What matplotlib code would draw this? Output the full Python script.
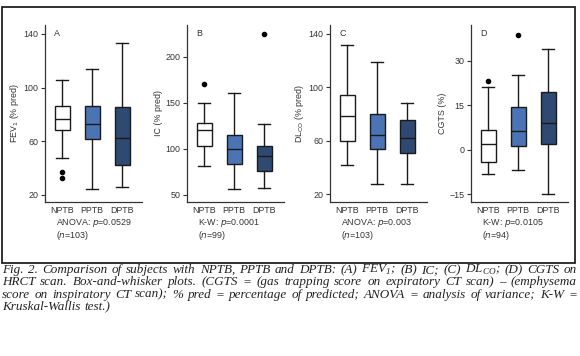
import matplotlib.pyplot as plt
from matplotlib.patches import Rectangle

plt.rcParams['font.family'] = ['Liberation Sans Narrow', 'Liberation Sans', 'DejaVu Sans']
plt.rcParams['mathtext.fontset'] = 'custom'
plt.rcParams['mathtext.rm'] = 'Liberation Serif:italic'
plt.rcParams['mathtext.it'] = 'Liberation Sans Narrow:italic'
plt.rcParams['mathtext.sf'] = 'Liberation Sans Narrow'

groups = ['NPTB', 'PPTB', 'DPTB']
colors = ['#ffffff', '#4a74b4', '#2e4a72']

# A: FEV1
fev1_low = [47.5, 24.5, 26]
fev1_q1 = [68, 61.3, 42]
fev1_med = [76.5, 73, 62.5]
fev1_q3 = [86, 86, 85.5]
fev1_high = [105.5, 113.5, 133]
fev1_out = [[37, 32.5], [], []]

# B: IC
ic_low = [81, 56, 58]
ic_q1 = [103.3, 84, 76.5]
ic_med = [121, 100, 92.4]
ic_q3 = [128.3, 115.3, 103.3]
ic_high = [150, 160.5, 127.2]
ic_out = [[170], [], [225]]

# C: DLCO
dlco_low = [41.6, 27.5, 27.5]
dlco_q1 = [59.8, 53.8, 50.8]
dlco_med = [78.5, 64.5, 62.5]
dlco_q3 = [94, 80, 75.5]
dlco_high = [131.4, 119, 88]
dlco_out = [[], [], []]

# D: CGTS
cgts_low = [-8.3, -6.9, -14.8]
cgts_q1 = [-4.2, 1.1, 2.0]
cgts_med = [1.8, 6.2, 9.1]
cgts_q3 = [6.5, 14.3, 19.4]
cgts_high = [21.1, 25.3, 34]
cgts_out = [[23.2], [38.8], []]

panels = [
    ('A', r'FEV$_{\mathsf{1}}$ (% pred)', fev1_low, fev1_q1, fev1_med, fev1_q3, fev1_high, fev1_out,
     (14.8, 146.7), [20, 60, 100, 140], 'ANOVA: ', '0.0529', '103'),
    ('B', 'IC (% pred)', ic_low, ic_q1, ic_med, ic_q3, ic_high, ic_out,
     (42.7, 234.4), [50, 100, 150, 200], 'K-W: ', '0.0001', '99'),
    ('C', r'DL$_{\mathsf{CO}}$ (% pred)', dlco_low, dlco_q1, dlco_med, dlco_q3, dlco_high, dlco_out,
     (14.5, 146.7), [20, 60, 100, 140], 'ANOVA: ', '0.003', '103'),
    ('D', 'CGTS (%)', cgts_low, cgts_q1, cgts_med, cgts_q3, cgts_high, cgts_out,
     (-17.5, 42), [-15, 0, 15, 30], 'K-W: ', '0.0105', '94'),
]

caption = [
    r'Fig. 2. Comparison of subjects with NPTB, PPTB and DPTB: (A) FEV$_{\mathrm{1}}$; (B) IC; (C) DL$_{\mathrm{CO}}$; (D) CGTS on',
    'HRCT scan. Box-and-whisker plots. (CGTS = (gas trapping score on expiratory CT scan) \u2013 (emphysema',
    'score on inspiratory CT scan); % pred = percentage of predicted; ANOVA = analysis of variance; K-W =',
    'Kruskal-Wallis test.)',
]

W, H = 580, 356
fig = plt.figure(figsize=(W / 100, H / 100), dpi=100)

fig.patches.append(Rectangle((2 / W, 1 - 263 / H), 573 / W, 256 / H, transform=fig.transFigure,
                             fill=False, edgecolor='#222222', linewidth=1.3))

fs = 6.4
lefts = [45, 187, 330, 471]
axw = 97
for left, p in zip(lefts, panels):
    letter, ylab, lo, q1, med, q3, hi, out, ylim, yt, test, pval, n = p
    ax = fig.add_axes([left / W, 1 - 201.7 / H, axw / W, 176.7 / H])
    stats = []
    for i in range(3):
        stats.append(dict(whislo=lo[i], q1=q1[i], med=med[i], q3=q3[i], whishi=hi[i], fliers=out[i]))
    bp = ax.bxp(stats, positions=[1, 2, 3], widths=0.5, patch_artist=True,
                boxprops=dict(edgecolor='#1a1a1a', linewidth=1.0),
                medianprops=dict(color='#1a1a1a', linewidth=1.0),
                whiskerprops=dict(color='#1a1a1a', linewidth=1.0),
                capprops=dict(color='#1a1a1a', linewidth=1.0),
                flierprops=dict(marker='o', markerfacecolor='black', markeredgecolor='black', markersize=3),
                capwidths=0.38)
    for box, c in zip(bp['boxes'], colors):
        box.set_facecolor(c)
    ax.set_xlim(0.43, 0.43 + axw / 30)
    ax.set_ylim(*ylim)
    ax.set_yticks(yt)
    ax.set_xticks([1, 2, 3])
    ax.set_xticklabels(groups)
    ax.spines['top'].set_visible(False)
    ax.spines['right'].set_visible(False)
    for s in ['left', 'bottom']:
        ax.spines[s].set_color('#333333')
        ax.spines[s].set_linewidth(0.9)
    ax.tick_params(axis='y', length=3, width=0.8, color='#333333', labelsize=fs, pad=1.5, labelcolor='#333333')
    ax.tick_params(axis='x', length=0, labelsize=fs, pad=3.2, labelcolor='#333333')
    ax.set_ylabel(ylab, fontsize=fs, color='#333333')
    ax.yaxis.set_label_coords(-0.25, 0.5)
    ax.text(0.093, 0.975, letter, transform=ax.transAxes, fontsize=fs, va='top', color='#333333')
    ax.text(0.11, -0.119, test + r'$p$=' + pval, transform=ax.transAxes, fontsize=fs,
            va='center', ha='left', color='#333333')
    ax.text(0.11, -0.19, r'($n$=' + n + ')', transform=ax.transAxes, fontsize=fs,
            va='center', ha='left', color='#333333')

# caption, justified line by line
fig.canvas.draw()
r = fig.canvas.get_renderer()
line_y = [270, 282.3, 294.7, 307]
x0, x1 = 2, 577
base_fs = 9.6
min_gap = 4.2
scale = 10.0
for line in caption[:3]:
    words = line.split(' ')
    probe = [fig.text(0, 0, w, fontsize=base_fs, family='Liberation Serif', style='italic') for w in words]
    total = sum(t.get_window_extent(r).width for t in probe)
    for t in probe:
        t.remove()
    scale = min(scale, (x1 - x0 - min_gap * (len(words) - 1)) / total)
cap_fs = base_fs * scale

for k, (line, yy) in enumerate(zip(caption, line_y)):
    words = line.split(' ')
    texts = [fig.text(0, 1 - yy / H, w, fontsize=cap_fs, family='Liberation Serif', style='italic',
                      va='center', ha='left', color='#222222') for w in words]
    widths = [t.get_window_extent(r).width for t in texts]
    if k < len(caption) - 1:
        gap = (x1 - x0 - sum(widths)) / (len(words) - 1)
    else:
        gap = min_gap
    x = x0
    for t, w in zip(texts, widths):
        t.set_x(x / W)
        x += w + gap

fig.savefig('out.png', dpi=100)
